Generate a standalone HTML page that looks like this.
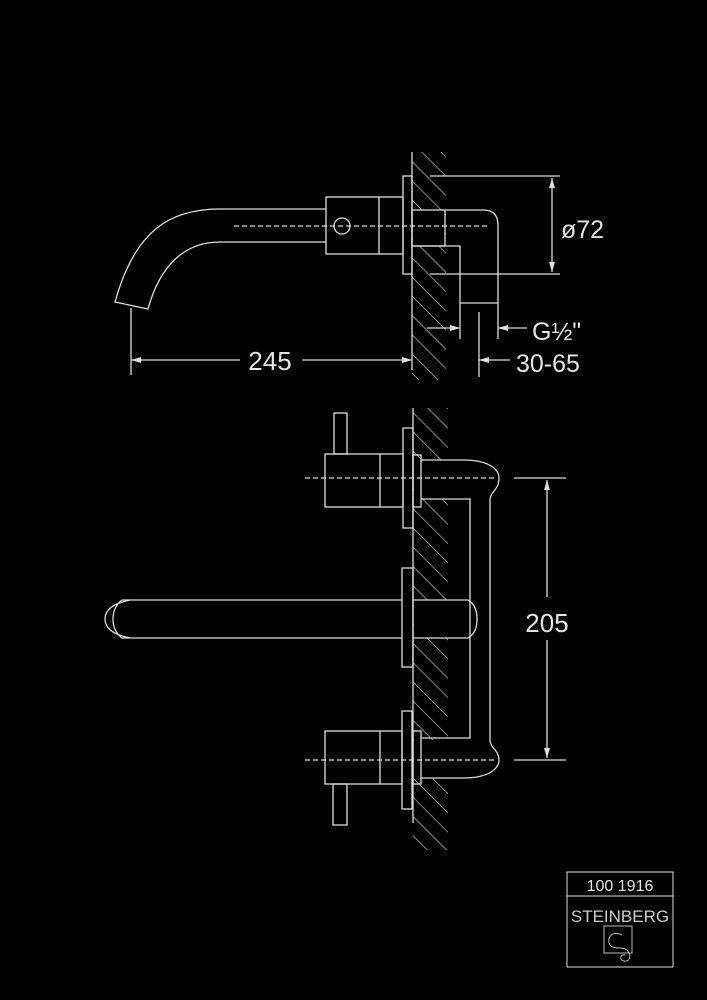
<!DOCTYPE html>
<html><head><meta charset="utf-8"><style>
html,body{margin:0;padding:0;background:#000;}
svg{display:block;}
text{font-family:"Liberation Sans",sans-serif;fill:#e6e6e6;}
</style></head><body>
<svg width="707" height="1000" viewBox="0 0 707 1000" xmlns="http://www.w3.org/2000/svg">
<defs>
<pattern id="h" patternUnits="userSpaceOnUse" width="13.6" height="13.6" patternTransform="rotate(-45)">
<line x1="0" y1="0" x2="0" y2="13.6" stroke="#ddd" stroke-width="1.2"/>
</pattern>
<marker id="a" viewBox="0 0 10 6" refX="10" refY="3" markerWidth="10" markerHeight="6" orient="auto-start-reverse" markerUnits="userSpaceOnUse">
<path d="M0,0 L10,3 L0,6 z" fill="#ddd"/>
</marker>
</defs>
<rect width="707" height="1000" fill="#000"/>
<g fill="none" stroke="#ddd" stroke-width="1.3">
<!-- TOP VIEW -->
<rect x="412" y="152" width="34" height="228" fill="url(#h)" stroke="none"/>
<rect x="413" y="210" width="32" height="36" fill="#000" stroke="none"/>
<line x1="412" y1="152" x2="412" y2="370"/>
<rect x="403" y="176" width="9" height="98"/>
<rect x="326" y="197" width="77" height="57"/>
<line x1="379" y1="197" x2="379" y2="254"/>
<circle cx="342" cy="226" r="8"/>
<path d="M220,209 C170,209 135,230 115,302 L148,309 C160,265 185,242 220,242"/>
<line x1="220" y1="209" x2="326" y2="209"/>
<line x1="220" y1="242" x2="326" y2="242"/>
<rect x="412" y="210" width="33" height="36"/>
<path d="M445,210 L483,210 Q498,210 498,225 L498,339"/>
<path d="M412,246 L460,246 L460,339"/>
<line x1="460" y1="303" x2="498" y2="303"/>
<line x1="234" y1="226" x2="487" y2="226" stroke-dasharray="5,3"/>
<line x1="430" y1="176" x2="560" y2="176"/>
<line x1="430" y1="274" x2="560" y2="274"/>
<line x1="552" y1="178" x2="552" y2="272" marker-start="url(#a)" marker-end="url(#a)"/>
<line x1="427" y1="328" x2="460" y2="328" marker-end="url(#a)"/>
<line x1="527" y1="328" x2="498" y2="328" marker-end="url(#a)"/>
<line x1="479" y1="312" x2="479" y2="377"/>
<line x1="510" y1="360" x2="479" y2="360" marker-end="url(#a)"/>
<line x1="131" y1="308" x2="131" y2="375"/>
<line x1="240" y1="360" x2="131" y2="360" marker-end="url(#a)"/>
<line x1="302" y1="360" x2="412" y2="360" marker-end="url(#a)"/>
<!-- BOTTOM VIEW -->
<rect x="413" y="408" width="35" height="442" fill="url(#h)" stroke="none"/>
<rect x="414" y="460" width="40" height="39" fill="#000" stroke="none"/>
<rect x="414" y="600" width="40" height="38" fill="#000" stroke="none"/>
<rect x="414" y="740" width="40" height="38" fill="#000" stroke="none"/>
<line x1="413" y1="408" x2="413" y2="823"/>
<rect x="403" y="428" width="10" height="100"/>
<rect x="325" y="454" width="78" height="53"/>
<line x1="380" y1="454" x2="380" y2="507"/>
<rect x="334" y="413" width="13" height="41"/>
<rect x="413" y="455" width="8" height="52"/>
<path d="M421,460 L463,460 C490,460 499,470 499,478 C499,490 490,492 490,500 L490,740 C490,748 499,750 499,760 C499,768 490,778 463,778 L421,778"/>
<path d="M421,499 L470,499 L470,738 L421,738"/>
<line x1="305" y1="478" x2="497" y2="478" stroke-dasharray="5,3"/>
<rect x="402" y="568" width="11" height="99"/>
<line x1="122" y1="600" x2="402" y2="600"/>
<line x1="122" y1="638" x2="402" y2="638"/>
<line x1="413" y1="600" x2="468" y2="600"/>
<line x1="413" y1="638" x2="468" y2="638"/>
<path d="M468,600 Q477,605 477,619 Q477,633 468,638"/>
<path d="M130,600 Q105,605 105,619 Q105,633 130,638"/>
<path d="M122,600 Q113,607 113,619 Q113,631 122,638"/>
<rect x="402" y="711" width="10" height="98"/>
<rect x="325" y="731" width="77" height="53"/>
<line x1="380" y1="731" x2="380" y2="784"/>
<rect x="413" y="731" width="8" height="53"/>
<rect x="333" y="784" width="14" height="41"/>
<line x1="305" y1="760" x2="497" y2="760" stroke-dasharray="5,3"/>
<line x1="514" y1="478" x2="566" y2="478"/>
<line x1="514" y1="760" x2="566" y2="760"/>
<line x1="547" y1="597" x2="547" y2="480" marker-end="url(#a)"/>
<line x1="547" y1="640" x2="547" y2="758" marker-end="url(#a)"/>
<!-- LOGO -->
<rect x="567" y="872" width="106" height="95" stroke-width="1"/>
<line x1="567" y1="896" x2="673" y2="896" stroke-width="1"/>
<rect x="604" y="926" width="28" height="27" stroke-width="1" stroke="#bbb"/>
<path d="M622,935 C612,930 606,938 610,945 C614,950 622,946 627,950 C632,955 630,962 624,961 C619,960 620,954 625,955" stroke="#bbb" stroke-width="1"/>
</g>
<text x="270" y="370" font-size="26" text-anchor="middle">245</text>
<text x="561" y="238" font-size="25">ø72</text>
<text x="532" y="340" font-size="25">G½"</text>
<text x="516" y="372" font-size="25">30-65</text>
<text x="547" y="632" font-size="26" text-anchor="middle">205</text>
<text x="620" y="891" font-size="16" text-anchor="middle">100 1916</text>
<text x="620" y="922" font-size="17" text-anchor="middle" style="fill:#ccc">STEINBERG</text>
</svg>
</body></html>
